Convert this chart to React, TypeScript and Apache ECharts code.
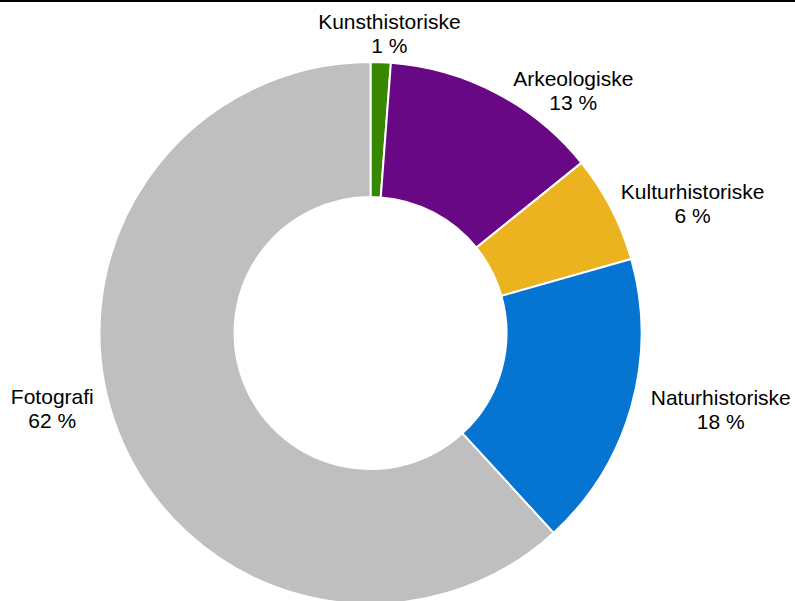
import React, { useEffect, useRef } from "react";
import * as echarts from "echarts";

const categories = ["Kunsthistoriske", "Arkeologiske", "Kulturhistoriske", "Naturhistoriske", "Fotografi"];
const values = [1.2, 13.0, 6.4, 17.6, 61.8];
const colors = ["#388700", "#680884", "#EBB31F", "#0675D1", "#BFBFBF"];
const labelNudges: [number, number][] = [[-63, -17], [11, 8], [-1, 1], [8, -1], [-13, -27]];

export default function App() {
  const ref = useRef<HTMLDivElement>(null);
  useEffect(() => {
    if (!ref.current) return;
    const chart = echarts.init(ref.current, undefined, { renderer: "svg" });
    const total = values.reduce((a, b) => a + b, 0);
    chart.setOption({
      animation: false,
      backgroundColor: "#ffffff",
      graphic: [
        { type: "rect", shape: { x: 0, y: 0, width: 795, height: 2 }, style: { fill: "#000000" }, z: 100 },
      ],
      series: [
        {
          type: "pie",
          center: [370.5, 333],
          radius: [136, 271],
          startAngle: 90,
          clockwise: true,
          avoidLabelOverlap: false,
          itemStyle: { borderColor: "#ffffff", borderWidth: 2 },
          label: {
            show: true,
            position: "outside",
            distanceToLabelLine: 0,
            formatter: (p: any) => `{c|${p.name}}\n{c|${Math.round((p.value / total) * 100)} %}`,
            rich: {
              c: {
                align: "center",
                fontSize: 21,
                lineHeight: 24,
                color: "#000000",
                fontFamily: "Liberation Sans, Arial, sans-serif",
              },
            },
          },
          labelLine: { show: false, length: 12, length2: 0 },
          labelLayout: (params: any) => {
            const n = labelNudges[params.dataIndex] || [0, 0];
            return { dx: n[0], dy: n[1] };
          },
          emphasis: { disabled: true },
          data: categories.map((name, i) => ({ name, value: values[i], itemStyle: { color: colors[i] } })),
        },
      ],
    });
    return () => chart.dispose();
  }, []);
  return <div ref={ref} style={{ position: "fixed", left: 0, top: 0, width: 795, height: 601 }} />;
}
